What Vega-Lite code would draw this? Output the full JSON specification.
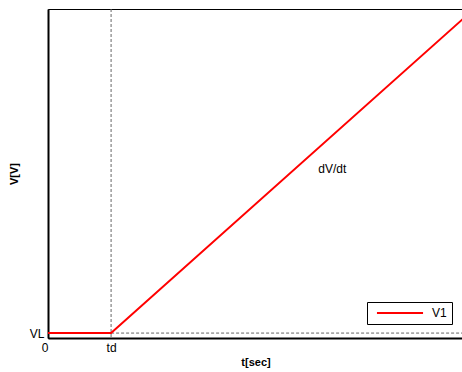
{
  "$schema": "https://vega.github.io/schema/vega-lite/v6.json",
  "width": 415,
  "height": 329,
  "autosize": {"type": "none"},
  "padding": {"left": 48, "top": 9, "right": 0, "bottom": 34},
  "background": "white",
  "config": {
    "font": "Liberation Sans",
    "view": {"stroke": "#000000", "strokeWidth": 1},
    "axis": {
      "domainColor": "#000000",
      "domainWidth": 2,
      "grid": false,
      "ticks": false,
      "labelFontSize": 12,
      "labelColor": "#000000",
      "titleFontSize": 11,
      "titleFontWeight": "bold",
      "titleColor": "#000000"
    }
  },
  "datasets": {
    "ramp": [
      {"t": 0, "V": 1.5, "series": "V1"},
      {"t": 1.52, "V": 1.5, "series": "V1"},
      {"t": 10, "V": 97, "series": "V1"}
    ],
    "markers": [
      {"td": 1.52, "VL": 1.5, "tEnd": 10}
    ],
    "notes": [
      {"t": 6.85, "V": 51.4, "label": "dV/dt"}
    ]
  },
  "layer": [
    {
      "data": {"name": "markers"},
      "mark": {"type": "rule", "color": "#666666", "strokeWidth": 1, "strokeDash": [3, 2]},
      "encoding": {
        "x": {"field": "td", "type": "quantitative"}
      }
    },
    {
      "data": {"name": "markers"},
      "mark": {"type": "rule", "color": "#666666", "strokeWidth": 1, "strokeDash": [3, 2]},
      "encoding": {
        "x": {"field": "td", "type": "quantitative"},
        "x2": {"field": "tEnd"},
        "y": {"field": "VL", "type": "quantitative"}
      }
    },
    {
      "data": {"name": "ramp"},
      "mark": {"type": "line", "strokeWidth": 2, "clip": true},
      "encoding": {
        "x": {
          "field": "t",
          "type": "quantitative",
          "scale": {"domain": [0, 10], "nice": false, "zero": false},
          "axis": {
            "title": "t[sec]",
            "values": [0, 1.52],
            "labelExpr": "datum.value == 0 ? '0' : 'td'",
            "labelFlush": false,
            "labelAlign": {"condition": {"test": "datum.value == 0", "value": "right"}, "value": "center"},
            "labelPadding": 4,
            "titlePadding": 3
          }
        },
        "y": {
          "field": "V",
          "type": "quantitative",
          "scale": {"domain": [0, 100], "nice": false, "zero": false},
          "axis": {
            "title": "V[V]",
            "values": [1.5],
            "labelExpr": "'VL'",
            "labelPadding": 4,
            "titlePadding": 10
          }
        },
        "color": {
          "field": "series",
          "type": "nominal",
          "scale": {"domain": ["V1"], "range": ["#ff0000"]},
          "legend": {
            "title": null,
            "orient": "none",
            "legendX": 319,
            "legendY": 293,
            "strokeColor": "#000000",
            "fillColor": "#ffffff",
            "padding": 5,
            "symbolType": "M-6,0H6",
            "symbolSize": 59,
            "symbolStrokeWidth": 2,
            "symbolOffset": 22,
            "labelFontSize": 12,
            "labelOffset": 26,
            "labelColor": "#000000"
          }
        }
      }
    },
    {
      "data": {"name": "notes"},
      "mark": {"type": "text", "fontSize": 12, "color": "#000000"},
      "encoding": {
        "x": {"field": "t", "type": "quantitative"},
        "y": {"field": "V", "type": "quantitative"},
        "text": {"field": "label"}
      }
    }
  ]
}
